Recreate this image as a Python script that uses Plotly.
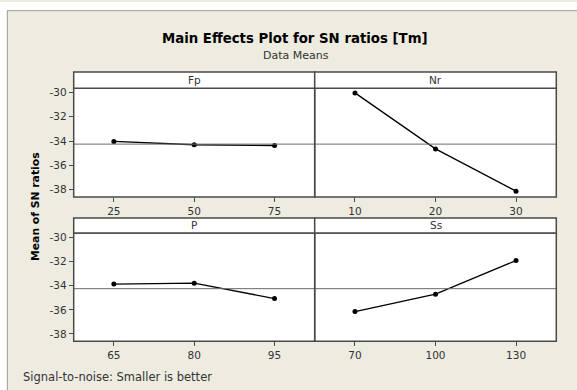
import numpy as np
import plotly.graph_objects as go

W, H = 577, 390

factors = ["Fp", "Nr", "P", "Ss"]
fp_levels = [25, 50, 75]
fp_means = [-34.03, -34.30, -34.36]
nr_levels = [10, 20, 30]
nr_means = [-30.03, -34.64, -38.12]
p_levels = [65, 80, 95]
p_means = [-33.87, -33.79, -35.07]
ss_levels = [70, 100, 130]
ss_means = [-36.14, -34.70, -31.92]
y_ticks = [-38, -36, -34, -32, -30]

levels = [fp_levels, nr_levels, p_levels, ss_levels]
means = [fp_means, nr_means, p_means, ss_means]
grand_mean = float(np.mean(np.concatenate([np.array(m) for m in means])))

BG = "#EEEBE1"
FRAME = "#4a4a4a"
TXT = "#333333"
FONT = "DejaVu Sans, Verdana, sans-serif"

def px_x(p):
    return p / W

def px_y(p):
    return 1 - p / H

col_x = [(73.7, 314.7), (314.7, 556.3)]
row_plot = [(86.7, 196.0), (232.3, 341.0)]
row_strip = [(70.3, 86.7), (217.0, 232.3)]

fig = go.Figure()
shapes = []
annotations = []

# white margins outside the beige frame + frame lines
shapes.append(dict(type="rect", xref="paper", yref="paper", x0=0, x1=1,
                   y0=px_y(8.7), y1=1, fillcolor="white", line=dict(width=0), layer="below"))
shapes.append(dict(type="rect", xref="paper", yref="paper", x0=0, x1=px_x(7.3),
                   y0=0, y1=1, fillcolor="white", line=dict(width=0), layer="below"))
shapes.append(dict(type="line", xref="paper", yref="paper", x0=px_x(7.3), x1=1,
                   y0=px_y(8.7), y1=px_y(8.7), line=dict(color="#9a9a9a", width=1)))
shapes.append(dict(type="line", xref="paper", yref="paper", x0=px_x(7.3), x1=px_x(7.3),
                   y0=0, y1=px_y(8.7), line=dict(color="#9a9a9a", width=1)))

layout_axes = {}
for i, (name, lv, mv) in enumerate(zip(factors, levels, means)):
    r, c = divmod(i, 2)
    n = i + 1
    xa = "xaxis" if n == 1 else f"xaxis{n}"
    ya = "yaxis" if n == 1 else f"yaxis{n}"
    xr = "x" if n == 1 else f"x{n}"
    yr = "y" if n == 1 else f"y{n}"
    step = lv[1] - lv[0]
    layout_axes[xa] = dict(
        domain=[px_x(col_x[c][0]), px_x(col_x[c][1])],
        anchor=yr, range=[lv[0] - step / 2, lv[-1] + step / 2],
        tickvals=lv, ticktext=[str(v) for v in lv],
        ticks="outside", ticklen=4, tickcolor=FRAME, tickwidth=1,
        showline=False, showgrid=False, zeroline=False,
        tickfont=dict(family=FONT, size=10.5, color=TXT),
    )
    layout_axes[ya] = dict(
        domain=[px_y(row_plot[r][1]), px_y(row_plot[r][0])],
        anchor=xr, range=[-38.6, -29.65],
        tickvals=y_ticks, ticktext=[str(v) for v in y_ticks],
        ticks="outside" if c == 0 else "", ticklen=4, tickcolor=FRAME,
        showticklabels=(c == 0),
        showline=False, showgrid=False, zeroline=False,
        tickfont=dict(family=FONT, size=10.5, color=TXT),
    )
    fig.add_trace(go.Scatter(
        x=lv, y=mv, mode="lines+markers", xaxis=xr, yaxis=yr,
        line=dict(color="black", width=1.3),
        marker=dict(color="black", size=5), showlegend=False,
        hoverinfo="x+y"))
    # grand mean reference line
    shapes.append(dict(type="line", xref=f"{xr} domain", yref=yr,
                       x0=0, x1=1, y0=grand_mean, y1=grand_mean,
                       line=dict(color="#6a6a6a", width=1)))
    # panel frame
    shapes.append(dict(type="rect", xref="paper", yref="paper",
                       x0=px_x(col_x[c][0]), x1=px_x(col_x[c][1]),
                       y0=px_y(row_plot[r][1]), y1=px_y(row_plot[r][0]),
                       line=dict(color=FRAME, width=1.5)))
    # strip
    shapes.append(dict(type="rect", xref="paper", yref="paper",
                       x0=px_x(col_x[c][0]), x1=px_x(col_x[c][1]),
                       y0=px_y(row_strip[r][1]), y1=px_y(row_strip[r][0]),
                       fillcolor="white", line=dict(color=FRAME, width=1.5)))
    annotations.append(dict(text=name, xref="paper", yref="paper",
                            x=px_x((col_x[c][0] + col_x[c][1]) / 2),
                            y=px_y((row_strip[r][0] + row_strip[r][1]) / 2),
                            showarrow=False, xanchor="center", yanchor="middle",
                            font=dict(family=FONT, size=10.5, color=TXT)))

annotations += [
    dict(text="<b>Main Effects Plot for SN ratios [Tm]</b>", xref="paper", yref="paper",
         x=px_x(294.7), y=px_y(37), showarrow=False, xanchor="center", yanchor="middle",
         font=dict(family=FONT, size=13.3, color="black")),
    dict(text="Data Means", xref="paper", yref="paper",
         x=px_x(295.5), y=px_y(53.5), showarrow=False, xanchor="center", yanchor="middle",
         font=dict(family=FONT, size=11, color=TXT)),
    dict(text="<b>Mean of SN ratios</b>", xref="paper", yref="paper",
         x=px_x(36), y=px_y(206), showarrow=False, textangle=-90,
         xanchor="center", yanchor="middle",
         font=dict(family=FONT, size=10.8, color="black")),
    dict(text="Signal-to-noise: Smaller is better", xref="paper", yref="paper",
         x=px_x(20.5), y=px_y(377), showarrow=False, xanchor="left", yanchor="middle",
         font=dict(family=FONT, size=11.5, color=TXT)),
]

fig.update_layout(
    width=W, height=H, margin=dict(l=0, r=0, t=0, b=0),
    paper_bgcolor=BG, plot_bgcolor="white",
    shapes=shapes, annotations=annotations, showlegend=False,
    **layout_axes,
)

fig.write_html("out.html", config={"displayModeBar": False},
               post_script="document.body.style.margin='0';")
